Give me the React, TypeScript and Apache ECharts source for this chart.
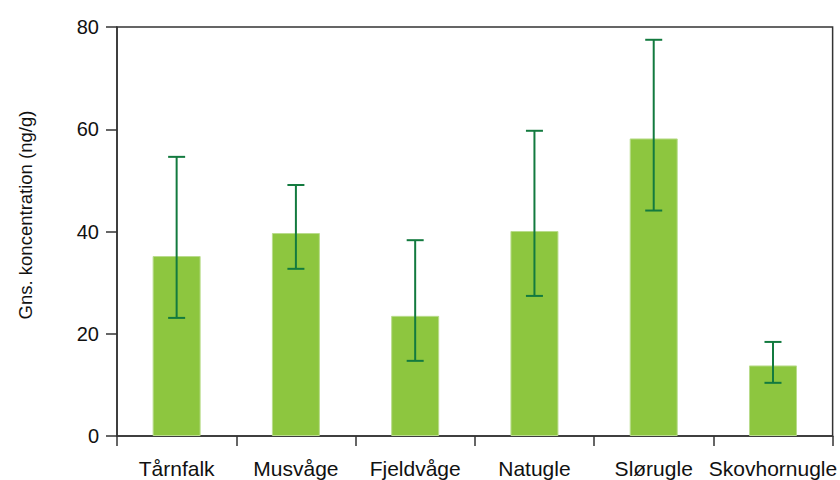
import React, { useEffect, useRef } from "react";
import * as echarts from "echarts";

// Mean concentration per species with lower/upper error bounds (ng/g)
const categories = ["Tårnfalk", "Musvåge", "Fjeldvåge", "Natugle", "Slørugle", "Skovhornugle"];
const means = [35.2, 39.7, 23.5, 40.1, 58.2, 13.8];
const lower = [23.1, 32.7, 14.7, 27.4, 44.1, 10.4];
const upper = [54.6, 49.1, 38.3, 59.7, 77.5, 18.4];
const yTicks = [0, 20, 40, 60, 80];
const yTitle = "Gns. koncentration (ng/g)";

const FONT = '"Liberation Sans", Arial, Helvetica, sans-serif';
const BAR_COLOR = "#8dc63f";
const ERR_COLOR = "#137a3f";
const AXIS_COLOR = "#333333";

export default function App() {
  const ref = useRef<HTMLDivElement>(null);

  useEffect(() => {
    if (!ref.current) return;
    const chart = echarts.init(ref.current, undefined, { renderer: "svg" });

    const errData = categories.map((_, i) => [i, lower[i], upper[i]]);

    chart.setOption({
      animation: false,
      backgroundColor: "#ffffff",
      grid: {
        left: 117,
        right: 5,
        top: 27,
        bottom: 44,
        show: true,
        borderColor: AXIS_COLOR,
        borderWidth: 1.5,
        backgroundColor: "transparent",
      },
      graphic: [
        {
          type: "text",
          x: 25,
          y: 215,
          rotation: Math.PI / 2,
          style: {
            text: yTitle,
            fontSize: 18.5,
            fontFamily: FONT,
            fill: "#111111",
            align: "center",
            verticalAlign: "middle",
          },
        },
      ],
      xAxis: {
        type: "category",
        data: categories,
        boundaryGap: true,
        axisLine: { show: true, lineStyle: { color: AXIS_COLOR, width: 1.5 } },
        axisTick: { show: true, length: 10, lineStyle: { color: AXIS_COLOR, width: 1.5 } },
        axisLabel: {
          margin: 22,
          fontSize: 21,
          color: "#111111",
          fontFamily: FONT,
          interval: 0,
        },
        splitLine: { show: false },
      },
      yAxis: {
        type: "value",
        min: yTicks[0],
        max: yTicks[yTicks.length - 1],
        interval: 20,
        axisLine: { show: true, lineStyle: { color: AXIS_COLOR, width: 1.5 } },
        axisTick: { show: true, length: 11, lineStyle: { color: AXIS_COLOR, width: 1.5 } },
        axisLabel: {
          margin: 18,
          fontSize: 20,
          color: "#111111",
          fontFamily: FONT,
        },
        splitLine: { show: false },
      },
      series: [
        {
          type: "bar",
          data: means,
          barWidth: 48,
          itemStyle: { color: BAR_COLOR, borderColor: "#b9dc8c", borderWidth: 1 },
          z: 2,
        },
        {
          type: "custom",
          data: errData,
          z: 3,
          renderItem: (params: any, api: any) => {
            const x = api.value(0);
            const lo = api.coord([x, api.value(1)]);
            const hi = api.coord([x, api.value(2)]);
            const half = 8.5;
            const style = { stroke: ERR_COLOR, lineWidth: 2 };
            return {
              type: "group",
              children: [
                { type: "line", shape: { x1: lo[0], y1: lo[1], x2: hi[0], y2: hi[1] }, style },
                { type: "line", shape: { x1: hi[0] - half, y1: hi[1], x2: hi[0] + half, y2: hi[1] }, style },
                { type: "line", shape: { x1: lo[0] - half, y1: lo[1], x2: lo[0] + half, y2: lo[1] }, style },
              ],
            };
          },
        },
      ],
    });

    return () => chart.dispose();
  }, []);

  return <div ref={ref} style={{ width: 840, height: 480, position: "fixed", left: 0, top: 0 }} />;
}
